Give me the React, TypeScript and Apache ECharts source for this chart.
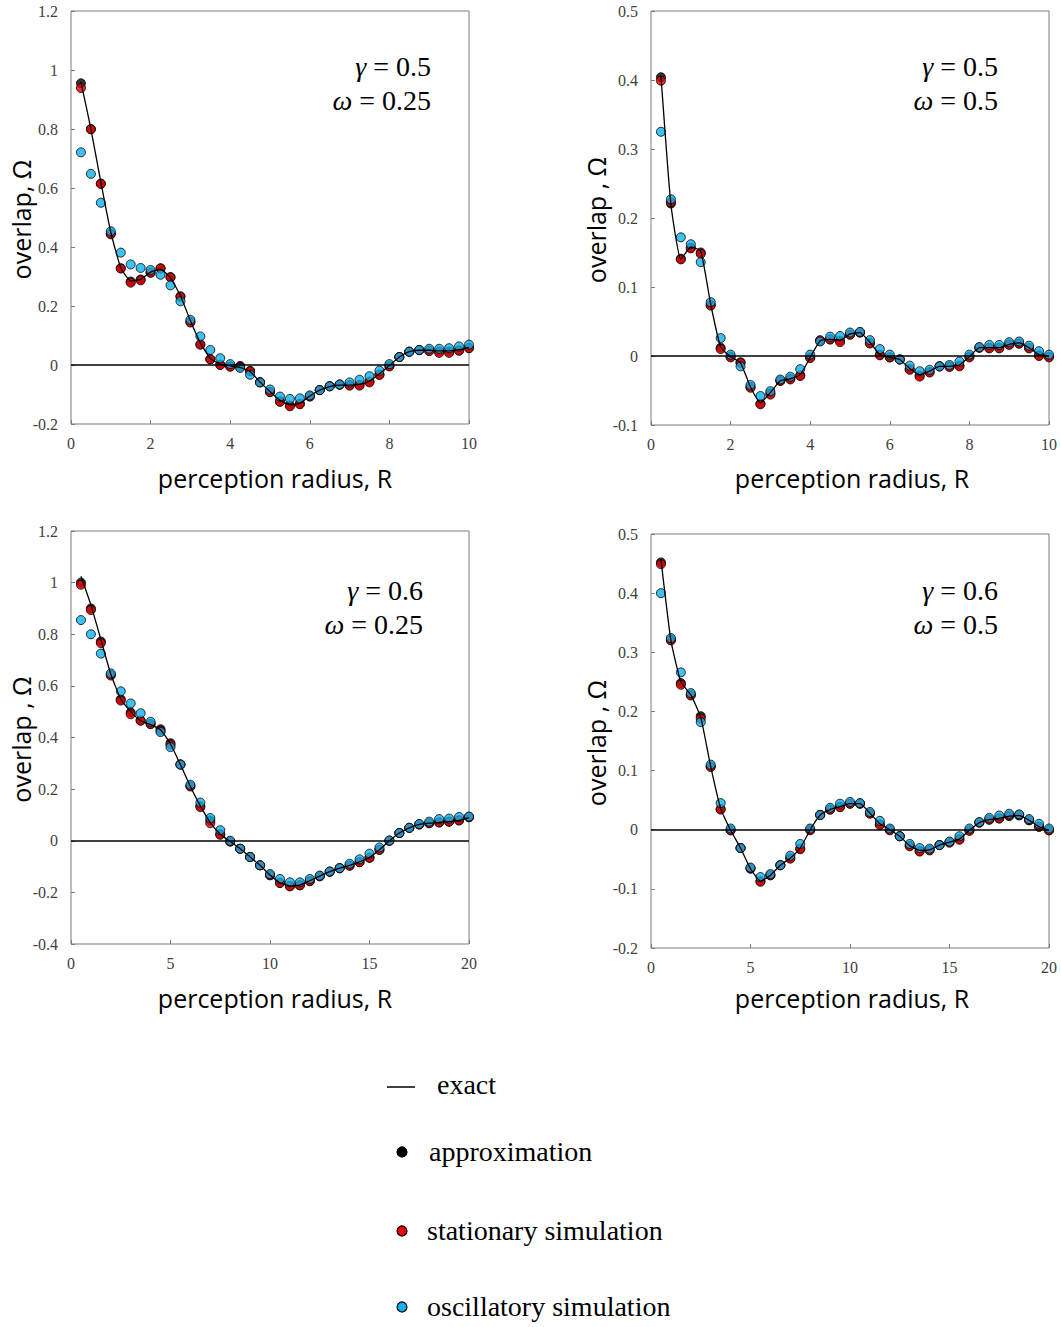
import React, { useEffect, useRef } from 'react';
import * as echarts from 'echarts';

// x positions (perception radius R)
const X10 = [0.25, 0.5, 0.75, 1, 1.25, 1.5, 1.75, 2, 2.25, 2.5, 2.75, 3, 3.25, 3.5, 3.75, 4, 4.25, 4.5, 4.75, 5,
  5.25, 5.5, 5.75, 6, 6.25, 6.5, 6.75, 7, 7.25, 7.5, 7.75, 8, 8.25, 8.5, 8.75, 9, 9.25, 9.5, 9.75, 10];
const X20 = [0.5, 1, 1.5, 2, 2.5, 3, 3.5, 4, 4.5, 5, 5.5, 6, 6.5, 7, 7.5, 8, 8.5, 9, 9.5, 10,
  10.5, 11, 11.5, 12, 12.5, 13, 13.5, 14, 14.5, 15, 15.5, 16, 16.5, 17, 17.5, 18, 18.5, 19, 19.5, 20];

// Panel 1: gamma 0.5, omega 0.25
const p1Exact = [0.96, 0.80, 0.62, 0.45, 0.33, 0.285, 0.29, 0.315, 0.325, 0.295, 0.235, 0.15, 0.075, 0.022, 0.003, -0.003, -0.008, -0.022, -0.058, -0.09,
  -0.12, -0.135, -0.13, -0.105, -0.085, -0.073, -0.068, -0.068, -0.066, -0.055, -0.03, -0.002, 0.027, 0.045, 0.05, 0.05, 0.048, 0.048, 0.052, 0.06];
const p1Approx = [0.955, 0.80, 0.615, 0.445, 0.328, 0.283, 0.29, 0.313, 0.328, 0.298, 0.233, 0.147, 0.07, 0.02, 0.001, -0.004, -0.003, -0.02, -0.058, -0.091,
  -0.123, -0.137, -0.131, -0.106, -0.085, -0.072, -0.067, -0.068, -0.067, -0.056, -0.032, -0.003, 0.027, 0.045, 0.05, 0.049, 0.046, 0.046, 0.05, 0.058];
const p1Stat = [0.939, 0.799, 0.614, 0.443, 0.327, 0.279, 0.287, 0.313, 0.327, 0.297, 0.231, 0.144, 0.069, 0.019, 0.0, -0.006, -0.006, -0.021, -0.059, -0.092,
  -0.125, -0.140, -0.133, -0.107, -0.085, -0.072, -0.066, -0.070, -0.070, -0.059, -0.034, -0.005, 0.027, 0.045, 0.051, 0.047, 0.041, 0.041, 0.048, 0.057];
const p1Osc = [0.721, 0.648, 0.550, 0.453, 0.381, 0.341, 0.329, 0.322, 0.306, 0.270, 0.216, 0.153, 0.097, 0.051, 0.023, 0.003, -0.010, -0.033, -0.059, -0.083,
  -0.107, -0.115, -0.113, -0.103, -0.085, -0.072, -0.066, -0.059, -0.050, -0.038, -0.019, 0.003, 0.027, 0.045, 0.051, 0.055, 0.055, 0.057, 0.063, 0.069];

// Panel 2: gamma 0.5, omega 0.5
const p2Exact = [0.406, 0.22, 0.14, 0.158, 0.152, 0.075, 0.013, -0.001, -0.01, -0.045, -0.068, -0.053, -0.036, -0.033, -0.027, -0.002, 0.022, 0.024, 0.023, 0.032,
  0.034, 0.02, 0.002, -0.002, -0.005, -0.018, -0.027, -0.022, -0.015, -0.015, -0.013, -0.001, 0.012, 0.012, 0.012, 0.017, 0.019, 0.012, 0.002, -0.001];
const p2Approx = [0.404, 0.221, 0.141, 0.157, 0.15, 0.074, 0.012, -0.001, -0.009, -0.045, -0.069, -0.054, -0.036, -0.033, -0.028, -0.002, 0.022, 0.024, 0.022, 0.031,
  0.034, 0.019, 0.002, -0.002, -0.005, -0.019, -0.028, -0.023, -0.015, -0.015, -0.014, -0.001, 0.012, 0.012, 0.012, 0.017, 0.018, 0.012, 0.001, -0.001];
const p2Stat = [0.399, 0.223, 0.140, 0.156, 0.148, 0.073, 0.010, -0.002, -0.010, -0.046, -0.070, -0.056, -0.036, -0.034, -0.029, -0.003, 0.023, 0.024, 0.020, 0.031,
  0.034, 0.018, 0.001, -0.002, -0.005, -0.020, -0.030, -0.024, -0.015, -0.016, -0.015, -0.002, 0.012, 0.011, 0.011, 0.016, 0.018, 0.011, 0.000, -0.002];
const p2Osc = [0.325, 0.227, 0.172, 0.162, 0.136, 0.078, 0.026, 0.002, -0.015, -0.042, -0.058, -0.051, -0.034, -0.030, -0.019, 0.002, 0.021, 0.028, 0.029, 0.034,
  0.035, 0.023, 0.010, 0.002, -0.005, -0.014, -0.022, -0.020, -0.015, -0.013, -0.008, 0.002, 0.013, 0.016, 0.016, 0.020, 0.021, 0.015, 0.007, 0.002];

// Panel 3: gamma 0.6, omega 0.25
const p3Exact = [1.025, 0.914, 0.78, 0.645, 0.55, 0.50, 0.465, 0.45, 0.43, 0.375, 0.295, 0.21, 0.135, 0.07, 0.025, -0.003, -0.031, -0.063, -0.095, -0.133,
  -0.163, -0.175, -0.172, -0.155, -0.137, -0.12, -0.106, -0.095, -0.082, -0.065, -0.035, 0.0, 0.03, 0.05, 0.063, 0.068, 0.071, 0.074, 0.079, 0.09];
const p3Approx = [1.0, 0.9, 0.772, 0.643, 0.548, 0.497, 0.466, 0.452, 0.432, 0.378, 0.296, 0.212, 0.134, 0.078, 0.026, -0.003, -0.031, -0.063, -0.095, -0.133,
  -0.163, -0.175, -0.172, -0.156, -0.137, -0.12, -0.106, -0.096, -0.083, -0.066, -0.035, 0.0, 0.03, 0.05, 0.063, 0.068, 0.071, 0.074, 0.079, 0.091];
const p3Stat = [0.992, 0.894, 0.766, 0.640, 0.543, 0.490, 0.465, 0.452, 0.426, 0.372, 0.295, 0.210, 0.130, 0.068, 0.023, -0.003, -0.031, -0.063, -0.095, -0.134,
  -0.164, -0.177, -0.173, -0.157, -0.138, -0.120, -0.107, -0.097, -0.083, -0.066, -0.035, 0.000, 0.030, 0.050, 0.063, 0.068, 0.071, 0.074, 0.079, 0.092];
const p3Osc = [0.855, 0.800, 0.725, 0.648, 0.579, 0.532, 0.494, 0.461, 0.421, 0.363, 0.295, 0.217, 0.148, 0.088, 0.041, 0.000, -0.031, -0.063, -0.095, -0.129,
  -0.148, -0.161, -0.161, -0.148, -0.135, -0.119, -0.106, -0.089, -0.072, -0.050, -0.026, 0.001, 0.030, 0.050, 0.065, 0.074, 0.084, 0.086, 0.092, 0.094];

// Panel 4: gamma 0.6, omega 0.5
const p4Exact = [0.457, 0.32, 0.25, 0.228, 0.19, 0.107, 0.036, -0.001, -0.031, -0.066, -0.087, -0.077, -0.06, -0.048, -0.031, 0.0, 0.025, 0.034, 0.039, 0.044,
  0.044, 0.028, 0.01, 0.0, -0.011, -0.027, -0.035, -0.034, -0.026, -0.021, -0.016, -0.001, 0.012, 0.017, 0.019, 0.023, 0.024, 0.016, 0.005, -0.001];
const p4Approx = [0.452, 0.321, 0.248, 0.228, 0.192, 0.107, 0.035, -0.001, -0.031, -0.066, -0.087, -0.077, -0.06, -0.048, -0.032, 0.0, 0.025, 0.034, 0.039, 0.044,
  0.044, 0.028, 0.009, 0.0, -0.011, -0.027, -0.036, -0.034, -0.026, -0.021, -0.016, -0.001, 0.012, 0.017, 0.019, 0.023, 0.024, 0.016, 0.005, -0.001];
const p4Stat = [0.449, 0.320, 0.245, 0.227, 0.188, 0.106, 0.034, -0.001, -0.031, -0.065, -0.088, -0.077, -0.060, -0.049, -0.033, -0.001, 0.025, 0.034, 0.038, 0.044,
  0.044, 0.027, 0.008, -0.001, -0.011, -0.028, -0.037, -0.035, -0.026, -0.022, -0.017, -0.002, 0.012, 0.017, 0.019, 0.024, 0.025, 0.016, 0.005, -0.001];
const p4Osc = [0.400, 0.324, 0.266, 0.231, 0.182, 0.110, 0.045, 0.002, -0.031, -0.064, -0.080, -0.075, -0.060, -0.044, -0.024, 0.002, 0.025, 0.037, 0.044, 0.047,
  0.045, 0.030, 0.015, 0.002, -0.011, -0.024, -0.031, -0.032, -0.026, -0.020, -0.011, 0.002, 0.013, 0.020, 0.024, 0.027, 0.026, 0.018, 0.010, 0.002];

// Axis specs
const yMins = [-0.2, -0.1, -0.4, -0.2];
const yMaxs = [1.2, 0.5, 1.2, 0.5];
const yIntervals = [0.2, 0.1, 0.2, 0.1];
const xMaxs = [10, 10, 20, 20];
const xIntervals = [2, 2, 5, 5];

const gammaLabels = ['0.5', '0.5', '0.6', '0.6'];
const omegaLabels = ['0.25', '0.5', '0.25', '0.5'];
const yNames = ['overlap, Ω', 'overlap , Ω', 'overlap , Ω', 'overlap , Ω'];
const xName = 'perception radius, R';
const legendLabels = ['exact', 'approximation', 'stationary simulation', 'oscillatory simulation'];

const panels = [
  { x: X10, exact: p1Exact, approx: p1Approx, stat: p1Stat, osc: p1Osc },
  { x: X10, exact: p2Exact, approx: p2Approx, stat: p2Stat, osc: p2Osc },
  { x: X20, exact: p3Exact, approx: p3Approx, stat: p3Stat, osc: p3Osc },
  { x: X20, exact: p4Exact, approx: p4Approx, stat: p4Stat, osc: p4Osc },
];

const GRIDS = [
  { left: 71, top: 11, width: 398, height: 413 },
  { left: 651, top: 11, width: 398, height: 414 },
  { left: 71, top: 531, width: 398, height: 413 },
  { left: 651, top: 534, width: 398, height: 414 },
];

const SERIF = "'Liberation Serif', 'Times New Roman', serif";
const SANS = "'Open Sans', sans-serif";
const RED = '#f00000';
const BLUE = '#10b0ec';
const FRAME = '#7a7a7a';

const zip = (xs: number[], ys: number[]) => xs.map((x, i) => [x, ys[i]]);

export default function App() {
  const ref = useRef<HTMLDivElement>(null);

  useEffect(() => {
    if (!ref.current) return;
    const chart = echarts.init(ref.current, undefined, { renderer: 'svg' });

    const grid = GRIDS.map((g) => ({
      ...g,
      show: true,
      borderColor: FRAME,
      borderWidth: 1,
      backgroundColor: 'transparent',
      containLabel: false,
    }));

    const labelStyle = { fontFamily: SERIF, fontSize: 16, color: '#404040' };

    const xAxis = GRIDS.map((_, i) => ({
      type: 'value',
      gridIndex: i,
      min: 0,
      max: xMaxs[i],
      interval: xIntervals[i],
      axisLine: { show: false, onZero: false },
      axisTick: { show: true, inside: true, length: 4, lineStyle: { color: FRAME } },
      splitLine: { show: false },
      axisLabel: { ...labelStyle, margin: 11 },
    }));

    const yAxis = GRIDS.map((_, i) => ({
      type: 'value',
      gridIndex: i,
      min: yMins[i],
      max: yMaxs[i],
      interval: yIntervals[i],
      axisLine: { show: false, onZero: false },
      axisTick: { show: true, inside: true, length: 4, lineStyle: { color: FRAME } },
      splitLine: { show: false },
      axisLabel: { ...labelStyle, margin: 13 },
    }));

    const series: any[] = [];
    panels.forEach((p, i) => {
      series.push({
        name: legendLabels[0],
        type: 'line',
        xAxisIndex: i,
        yAxisIndex: i,
        data: zip(p.x, p.exact),
        symbol: 'none',
        smooth: 0.15,
        lineStyle: { color: '#000', width: 1.3 },
        markLine: {
          silent: true,
          symbol: 'none',
          label: { show: false },
          lineStyle: { color: '#000', width: 1.5, type: 'solid' },
          data: [{ yAxis: 0 }],
        },
      });
      series.push({
        name: legendLabels[1],
        type: 'scatter',
        xAxisIndex: i,
        yAxisIndex: i,
        data: zip(p.x, p.approx),
        symbolSize: 9,
        itemStyle: { color: '#000', borderColor: '#000', borderWidth: 1 },
      });
      series.push({
        name: legendLabels[2],
        type: 'scatter',
        xAxisIndex: i,
        yAxisIndex: i,
        data: zip(p.x, p.stat),
        symbolSize: 9,
        itemStyle: { color: RED, borderColor: '#000', borderWidth: 1 },
      });
      series.push({
        name: legendLabels[3],
        type: 'scatter',
        xAxisIndex: i,
        yAxisIndex: i,
        data: zip(p.x, p.osc),
        symbolSize: 9,
        itemStyle: { color: BLUE, borderColor: '#000', borderWidth: 1 },
      });
    });

    const graphic: any[] = [];
    const italic = {
      fontStyle: 'italic',
      fontFamily: SERIF,
      fontSize: 28,
      font: "italic 28px 'Liberation Serif', serif",
      fill: '#000',
    };
    // annotations
    const annRight = [431, 998, 423, 998];
    const annY = [[66, 100], [66, 100], [590, 624], [590, 624]];
    GRIDS.forEach((_, i) => {
      [['γ', gammaLabels[i]], ['ω', omegaLabels[i]]].forEach(([sym, val], k) => {
        graphic.push({
          type: 'text',
          x: annRight[i],
          y: annY[i][k],
          style: {
            text: '{i|' + sym + '} = ' + val,
            rich: { i: italic },
            fontFamily: SERIF,
            fontSize: 28,
            fill: '#000',
            align: 'right',
            textAlign: 'right',
            verticalAlign: 'middle',
            textVerticalAlign: 'middle',
          },
        });
      });
    });

    // axis names
    const yNameX = [21, 596, 21, 596];
    const xNameX = [275, 852, 275, 852];
    const xNameY = [478, 478, 998, 998];
    GRIDS.forEach((g, i) => {
      graphic.push({
        type: 'text',
        x: yNameX[i],
        y: g.top + g.height / 2 + 2,
        rotation: Math.PI / 2,
        style: {
          text: yNames[i],
          fontFamily: SANS,
          fontSize: 25,
          fill: '#000',
          align: 'center',
          textAlign: 'center',
          verticalAlign: 'middle',
          textVerticalAlign: 'middle',
        },
      });
      graphic.push({
        type: 'text',
        x: xNameX[i],
        y: xNameY[i],
        style: {
          text: xName,
          fontFamily: SANS,
          fontSize: 25,
          fill: '#000',
          align: 'center',
          textAlign: 'center',
          verticalAlign: 'middle',
          textVerticalAlign: 'middle',
        },
      });
    });

    // legend
    graphic.push({ type: 'line', shape: { x1: 387, y1: 1087, x2: 415, y2: 1087 }, style: { stroke: '#000', lineWidth: 1.5 } });
    const legX = [437, 429, 427, 427];
    const legY = [1084, 1151, 1230, 1306];
    const legFill = [null, '#000', RED, BLUE];
    legendLabels.forEach((lab, i) => {
      if (i > 0) {
        graphic.push({
          type: 'circle',
          shape: { cx: 402, cy: legY[i] + 1, r: 5 },
          style: { fill: legFill[i], stroke: '#000', lineWidth: 1.2 },
        });
      }
      graphic.push({
        type: 'text',
        x: legX[i],
        y: legY[i],
        style: {
          text: lab,
          fontFamily: SERIF,
          fontSize: 28,
          fill: '#000',
          align: 'left',
          textAlign: 'left',
          verticalAlign: 'middle',
          textVerticalAlign: 'middle',
        },
      });
    });

    chart.setOption({
      animation: false,
      backgroundColor: '#fff',
      grid,
      xAxis,
      yAxis,
      series,
      graphic,
    });

    return () => chart.dispose();
  }, []);

  return (
    <div
      ref={ref}
      style={{ position: 'absolute', left: 0, top: 0, width: 1061, height: 1327, background: '#fff' }}
    />
  );
}
